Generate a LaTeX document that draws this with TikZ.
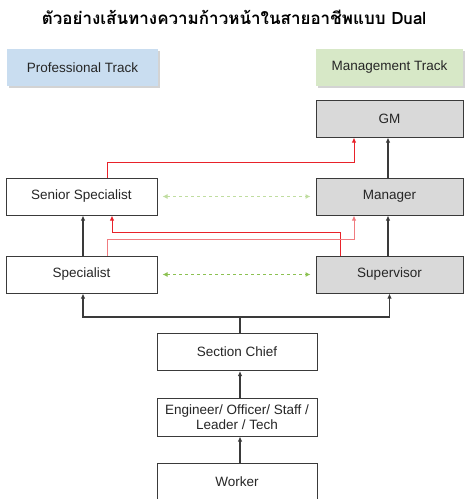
\documentclass[tikz,border=0pt]{standalone}
\usepackage{fontspec}
\setmainfont{Liberation Sans}
\newfontfamily\thaifont[Script=Thai]{Loma}
\usetikzlibrary{arrows.meta,shadows}

\definecolor{grisCaja}{HTML}{D9D9D9}
\definecolor{azulPista}{HTML}{C9DDF0}
\definecolor{verdePista}{HTML}{D7E8C7}
\definecolor{verdeFlecha}{HTML}{8CC152}
\definecolor{rojoLinea}{HTML}{E8222A}
\definecolor{rojoClaro}{HTML}{F07C80}
\definecolor{bordeCaja}{HTML}{3A3A3A}

\tikzset{
  puesto/.style={draw=bordeCaja, line width=1pt, fill=white, minimum height=37pt,
                 font=\fontsize{13.5}{14.5}\selectfont, text=black!85, align=center, inner sep=1pt},
  jefe/.style={puesto, fill=grisCaja},
  pista/.style={minimum height=37pt, font=\fontsize{13.5}{14.5}\selectfont, text=black!85,
                drop shadow={shadow xshift=1.5pt, shadow yshift=-1.5pt, opacity=.35}},
  sube/.style={-{Latex[length=5pt,width=4.5pt]}, line width=1.1pt, bordeCaja},
  salto/.style={-{Latex[length=5pt,width=4.5pt]}, line width=1pt, rojoLinea},
  cruce/.style={{Latex[length=5pt,width=5pt]}-{Latex[length=5pt,width=5pt]},
                dashed, line width=1.2pt, verdeFlecha, shorten <=5pt, shorten >=5pt}
}

\begin{document}
\begin{tikzpicture}[x=1pt, y=-1pt]

  \useasboundingbox (0,0) rectangle (465,499);

  % --- Titulo ---
  \node (titulo) at (234,17) {\thaifont\bfseries\fontsize{17}{19}\selectfont ตัวอย่างเส้นทางความก้าวหน้าในสายอาชีพแบบ Dual};

  % --- Pistas ---
  \node[pista, fill=azulPista,  minimum width=151pt] (profesional) at (82.5,67.5) {Professional Track};
  \node[pista, fill=verdePista, minimum width=147pt] (gestion)     at (389.5,67.5) {Management Track};

  % --- Puestos ---
  \node[jefe,   minimum width=147pt] (gm)         at (389.5,118.5) {GM};
  \node[puesto, minimum width=151pt] (senior)     at (81.5,196.5)  {Senior Specialist};
  \node[jefe,   minimum width=147pt] (manager)    at (389.5,196.5) {Manager};
  \node[puesto, minimum width=151pt] (specialist) at (81.5,274.5)  {Specialist};
  \node[jefe,   minimum width=147pt] (supervisor) at (389.5,274.5) {Supervisor};
  \node[puesto, minimum width=160pt] (chief)      at (237,352)     {Section Chief};
  \node[puesto, minimum width=160pt, minimum height=38pt] (engineer) at (237,417)
        {Engineer/ Officer/ Staff /\\ Leader / Tech};
  \node[puesto, minimum width=160pt] (worker)     at (237,481.5)   {Worker};

  % --- Linea comun sobre Section Chief ---
  \coordinate (bus) at (240,317);
  \draw[line width=1.1pt, bordeCaja] ([xshift=3pt]chief.north) -- (bus);
  \draw[sube] (bus) -| ([xshift=1.5pt]specialist.south);
  \draw[sube] (bus) -| (supervisor.south);

  % --- Ascensos directos ---
  \draw[sube] ([xshift=3pt]worker.north)   -- ([xshift=3pt]engineer.south);
  \draw[sube] ([xshift=3pt]engineer.north) -- ([xshift=3pt]chief.south);
  \draw[sube] ([xshift=1.5pt]specialist.north) -- ([xshift=1.5pt]senior.south);
  \draw[sube] ([xshift=-1.5pt]supervisor.north) -- ([xshift=-1.5pt]manager.south);
  \draw[sube] ([xshift=-1.5pt]manager.north) -- ([xshift=-1.5pt]gm.south);

  % --- Cambios de pista (rojo) ---
  \draw[salto] ([xshift=25.5pt]senior.north) -- ++(0,-15.5) -| ([xshift=-35.5pt]gm.south);
  \draw[salto] ([xshift=-49.5pt]supervisor.north) -- ++(0,-23.5) -| ([xshift=30.5pt]senior.south);
  \draw[salto, rojoClaro] ([xshift=25.5pt]specialist.north) -- ++(0,-16.5) -| ([xshift=-35.5pt]manager.south);

  % --- Equivalencias entre pistas ---
  \draw[cruce, verdeFlecha!55] (senior.east) -- (manager.west);
  \draw[cruce] (specialist.east) -- (supervisor.west);

\end{tikzpicture}
\end{document}
